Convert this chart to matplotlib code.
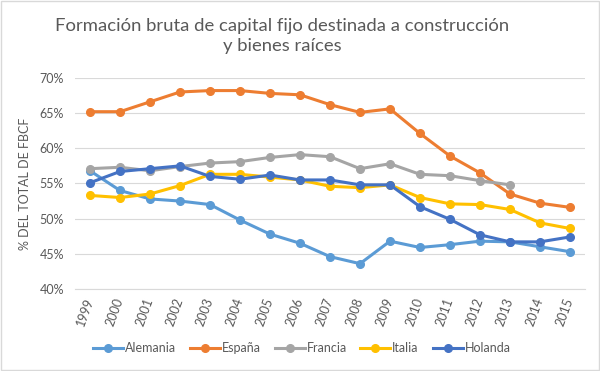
import matplotlib
matplotlib.use("Agg")
import matplotlib.pyplot as plt
from matplotlib.patches import Rectangle

years = list(range(1999, 2016))
alemania = [56.8, 54.0, 52.8, 52.5, 52.0, 49.8, 47.8, 46.5, 44.6, 43.6, 46.8, 45.9, 46.3, 46.8, 46.7, 46.0, 45.3]
espana = [65.2, 65.2, 66.6, 68.0, 68.2, 68.2, 67.8, 67.6, 66.2, 65.1, 65.6, 62.1, 58.9, 56.5, 53.5, 52.2, 51.6]
francia = [57.1, 57.3, 56.8, 57.4, 57.9, 58.1, 58.7, 59.1, 58.8, 57.1, 57.8, 56.3, 56.1, 55.4, 54.8]
italia = [53.3, 53.0, 53.5, 54.7, 56.3, 56.3, 55.9, 55.5, 54.6, 54.4, 54.8, 53.0, 52.1, 52.0, 51.3, 49.4, 48.6]
holanda = [55.1, 56.7, 57.1, 57.5, 56.0, 55.6, 56.2, 55.5, 55.5, 54.8, 54.8, 51.7, 49.9, 47.7, 46.7, 46.7, 47.4]

series = [
    ("Alemania", alemania, "#5B9BD5"),
    ("España", espana, "#ED7D31"),
    ("Francia", francia, "#A5A5A5"),
    ("Italia", italia, "#FFC000"),
    ("Holanda", holanda, "#4472C4"),
]

plt.rcParams['font.family'] = ['Lato', 'DejaVu Sans']
fig = plt.figure(figsize=(6.0, 3.71), dpi=100)
ax = fig.add_axes([0.125, 0.221, 0.85, 0.569])

for name, vals, col in series:
    ax.plot(years[:len(vals)], vals, color=col, lw=2.2, marker='o', ms=5.5, label=name, zorder=3)

ax.set_xlim(1998.5, 2015.5)
ax.set_ylim(40, 70)
ax.set_yticks(range(40, 71, 5))
ax.set_yticklabels([f"{v}%" for v in range(40, 71, 5)])
ax.set_xticks(years)
ax.set_xticklabels([str(y) for y in years], rotation=70, ha='right', va='center', rotation_mode='anchor')
ax.tick_params(axis='both', length=0, labelsize=9, labelcolor='#595959')
ax.tick_params(axis='x', pad=7)
ax.tick_params(axis='y', pad=8)
ax.grid(axis='y', color='#D9D9D9', lw=0.8)
ax.set_axisbelow(True)
for s in ['top', 'right', 'left']:
    ax.spines[s].set_visible(False)
ax.spines['bottom'].set_color('#D9D9D9')
ax.set_ylabel("% DEL TOTAL DE FBCF", fontsize=9, color='#595959', labelpad=6)

fig.text(0.47, 0.902, "Formación bruta de capital fijo destinada a construcción\ny bienes raíces",
         ha='center', va='center', fontsize=13.3, color='#595959', linespacing=1.3)

leg = fig.legend(loc='center', bbox_to_anchor=(0.503, 0.062), ncol=5, frameon=False,
                 fontsize=9, handlelength=2.4, columnspacing=1.1, handletextpad=0.15)
for t in leg.get_texts():
    t.set_color('#595959')

fig.patches.append(Rectangle((0.002, 0.002), 0.996, 0.996, transform=fig.transFigure,
                             fill=False, edgecolor='#D9D9D9', lw=1))

fig.savefig("out.png", dpi=100, facecolor='white')
